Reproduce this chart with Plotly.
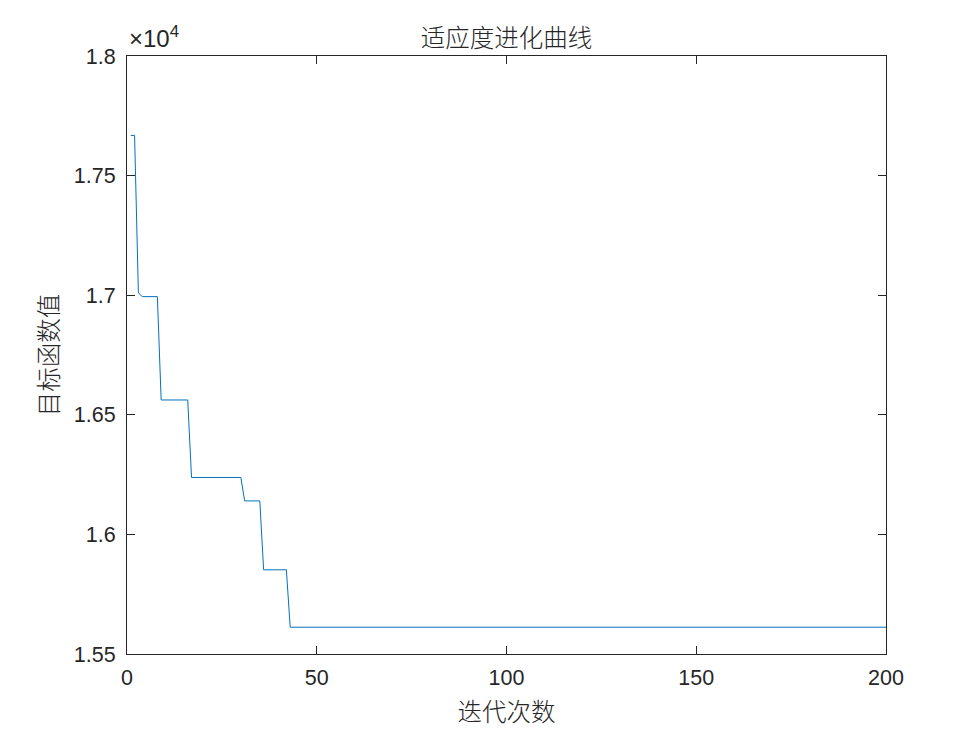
import plotly.graph_objects as go

# Step runs of the best objective value per iteration
run_values = [17668, 17010, 16994, 16562, 16238, 16140, 15852, 15612]
run_lengths = [2, 1, 5, 8, 14, 5, 7, 158]

iterations = list(range(1, sum(run_lengths) + 1))
best_values = []
for v, n in zip(run_values, run_lengths):
    best_values.extend([v] * n)

x_tickvals = [0, 50, 100, 150, 200]
y_tickvals = [15500, 16000, 16500, 17000, 17500, 18000]
y_ticktext = ["1.55", "1.6", "1.65", "1.7", "1.75", "1.8"]

title_text = "适应度进化曲线"
x_label = "迭代次数"
y_label = "目标函数值"

axis_color = "#262626"
tick_font = dict(family="Liberation Sans, Arial, sans-serif", size=21.5, color=axis_color)
cjk_font = dict(family="Noto Sans CJK SC, sans-serif", size=24.5, color=axis_color, weight=300)

fig = go.Figure()
fig.add_trace(go.Scatter(x=iterations, y=best_values, mode="lines",
                         line=dict(color="#0072BD", width=1), showlegend=False))

fig.update_layout(
    width=980, height=735,
    margin=dict(l=119, r=102, t=48, b=89),
    paper_bgcolor="white", plot_bgcolor="white",
    title=dict(text=title_text, x=(127 + 886) / 2 / 980 - 8 / 980, xanchor="center",
               y=1 - 30 / 735, yanchor="middle", font=cjk_font),
)
fig.update_xaxes(
    range=[0, 200], tickvals=x_tickvals, ticks="inside", ticklen=8, tickcolor=axis_color,
    showline=True, linecolor=axis_color, linewidth=1, mirror="ticks", showgrid=False,
    zeroline=False, tickfont=tick_font, ticklabelstandoff=4,
    title=dict(text=x_label, font=cjk_font, standoff=15),
)
fig.update_yaxes(
    range=[15500, 18000], tickvals=y_tickvals, ticktext=y_ticktext, ticks="inside", ticklen=8,
    tickcolor=axis_color, showline=True, linecolor=axis_color, linewidth=1, mirror="ticks",
    showgrid=False, zeroline=False, tickfont=tick_font, ticklabelstandoff=6,
    title=dict(text=y_label, font=cjk_font, standoff=8),
)
fig.add_annotation(text="×10<sup>4</sup>", xref="paper", yref="paper", x=0, y=1,
                   xanchor="left", yanchor="bottom", showarrow=False, yshift=2,
                   font=dict(family="Liberation Sans, Arial, sans-serif", size=24, color=axis_color))

fig.write_html("out.html")
